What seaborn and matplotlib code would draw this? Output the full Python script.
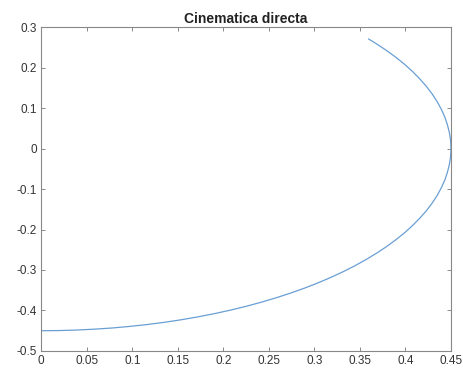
import matplotlib
matplotlib.use("Agg")
import matplotlib.pyplot as plt
import seaborn as sns

# === data ===
x_pos = [0.0, 0.0196, 0.0392, 0.0587, 0.0781, 0.0974, 0.1165, 0.1353, 0.1539, 0.1722,
         0.1902, 0.2078, 0.2250, 0.2418, 0.2581, 0.2739, 0.2893, 0.3040, 0.3182, 0.3318,
         0.3447, 0.3570, 0.3686, 0.3795, 0.3897, 0.3992, 0.4078, 0.4157, 0.4229, 0.4292,
         0.4347, 0.4393, 0.4432, 0.4461, 0.4483, 0.4496, 0.4500, 0.4496, 0.4483, 0.4461,
         0.4432, 0.4393, 0.4347, 0.4292, 0.4229, 0.4157, 0.4078, 0.3992, 0.3897, 0.3795,
         0.3686, 0.3594]
y_pos = [-0.4500, -0.4496, -0.4483, -0.4461, -0.4432, -0.4393, -0.4347, -0.4292, -0.4229, -0.4157,
         -0.4078, -0.3992, -0.3897, -0.3795, -0.3686, -0.3570, -0.3447, -0.3318, -0.3182, -0.3040,
         -0.2893, -0.2739, -0.2581, -0.2418, -0.2250, -0.2078, -0.1902, -0.1722, -0.1539, -0.1353,
         -0.1165, -0.0974, -0.0781, -0.0587, -0.0392, -0.0196, 0.0, 0.0196, 0.0392, 0.0587,
         0.0781, 0.0974, 0.1165, 0.1353, 0.1539, 0.1722, 0.1902, 0.2078, 0.2250, 0.2418,
         0.2581, 0.2708]
x_ticks = [0, 0.05, 0.1, 0.15, 0.2, 0.25, 0.3, 0.35, 0.4, 0.45]
x_labels = ["0", "0.05", "0.1", "0.15", "0.2", "0.25", "0.3", "0.35", "0.4", "0.45"]
y_ticks = [-0.5, -0.4, -0.3, -0.2, -0.1, 0, 0.1, 0.2, 0.3]
y_labels = ["-0.5", "-0.4", "-0.3", "-0.2", "-0.1", "0", "0.1", "0.2", "0.3"]

# === style ===
sns.set_style("white")
plt.rcParams["font.family"] = ["Liberation Sans", "DejaVu Sans"]
plt.rcParams["axes.unicode_minus"] = False

fig = plt.figure(figsize=(4.63, 3.71), dpi=100)
ax = fig.add_axes([0.089, 0.054, 0.885, 0.873])

sns.lineplot(x=x_pos, y=y_pos, sort=False, estimator=None,
             color="#6a9fd4", linewidth=0.9, ax=ax)

ax.set_xlim(0, 0.45)
ax.set_ylim(-0.5, 0.3)
ax.set_xticks(x_ticks)
ax.set_xticklabels(x_labels)
ax.set_yticks(y_ticks)
ax.set_yticklabels(y_labels)
ax.tick_params(direction="in", length=3, width=0.6, colors="#777777",
               labelcolor="#333333", labelsize=8.5, top=True, right=True,
               bottom=True, left=True, pad=3)
for s in ax.spines.values():
    s.set_visible(True)
    s.set_color("#888888")
    s.set_linewidth(0.8)

ax.set_title("Cinematica directa", fontsize=10, fontweight="bold",
             color="#222222", pad=3)

fig.savefig("out.png", dpi=100)
